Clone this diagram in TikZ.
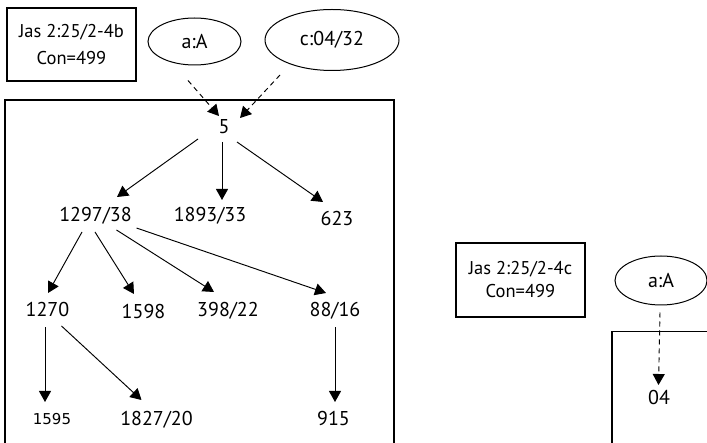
\documentclass[tikz,border=0pt]{standalone}
\usepackage{fontspec}
\setmainfont{PT Sans}
\usetikzlibrary{arrows.meta,shapes.geometric}

\begin{document}
\begin{tikzpicture}[x=1pt,y=-1pt,
  lbl/.style={font=\fontsize{20}{24}\selectfont, inner sep=0pt, text height=14pt, text depth=0pt},
  smalllbl/.style={font=\fontspec{DejaVu Sans}\fontsize{15}{17}\selectfont, inner sep=0pt, text height=11pt, text depth=0pt},
  infobox/.style={draw, line width=1.1pt, align=center, inner sep=0pt},
  oval/.style={draw, ellipse, line width=1pt, inner sep=0pt, font=\fontsize{20}{24}\selectfont},
  frame/.style={draw, line width=1.2pt},
  arr/.style={-{Triangle[length=11pt,width=12pt]}, line width=0.95pt},
  darr/.style={arr, dash pattern=on 5pt off 4pt}]
\useasboundingbox (0,0) rectangle (707,443);
\clip (0,0) rectangle (707,443);

% ---- left part: record 4b ----
\node[infobox, minimum width=129pt, minimum height=73pt,
      font=\fontsize{18.5}{27}\selectfont] (jasb) at (71.5,44.5) {Jas 2:25/2-4b\\Con=499};
\node[oval, minimum width=93pt, minimum height=47pt] (eA) at (194.5,41.5) {a:A};
\node[oval, minimum width=134pt, minimum height=61pt] (eC) at (332,40) {c:04/32};

\draw[frame] (5,100) rectangle (394,470);

\node[lbl] (n5)    at (224,127)   {5};
\node[lbl] (n1297) at (95.5,215)  {1297/38};
\node[lbl] (n1893) at (210,215)   {1893/33};
\node[lbl] (n623)  at (337,219)   {623};
\node[lbl] (n1270) at (47.5,310)  {1270};
\node[lbl] (n1598) at (143.5,312) {1598};
\node[lbl] (n398)  at (228,310)   {398/22};
\node[lbl] (n88)   at (335,310)   {88/16};
\node[smalllbl] (n1595) at (52,419) {1595};
\node[lbl] (n1827) at (156.5,418.5) {1827/20};
\node[lbl] (n915)  at (333.5,419) {915};

% dashed inputs
\draw[darr] ([shift={(-6.5,39)}]eA.center) -- ([shift={(-5,-11)}]n5.center);
\draw[darr] ([shift={(-52,35)}]eC.center)  -- ([shift={(16,-9)}]n5.center);

% tree edges
\draw[arr] ([shift={(-26,12)}]n5.center) -- ([shift={(21.5,-18)}]n1297.center);
\draw[arr] ([shift={(-2,15)}]n5.center)  -- ([shift={(12,-15)}]n1893.center);
\draw[arr] ([shift={(13,15)}]n5.center)  -- ([shift={(-14,-17)}]n623.center);

\draw[arr] ([shift={(-13.5,17)}]n1297.center) -- ([shift={(0.5,-17)}]n1270.center);
\draw[arr] ([shift={(-0.5,17)}]n1297.center)  -- ([shift={(-9.5,-18)}]n1598.center);
\draw[arr] ([shift={(21,15)}]n1297.center)    -- ([shift={(-14,-18)}]n398.center);
\draw[arr] ([shift={(41,13)}]n1297.center)    -- ([shift={(-9,-17)}]n88.center);

\draw[arr] ([shift={(-2.5,17.5)}]n1270.center) -- ([shift={(-7,-17)}]n1595.center);
\draw[arr] ([shift={(14,16)}]n1270.center)     -- ([shift={(-15,-18.5)}]n1827.center);
\draw[arr] ([shift={(0,17.5)}]n88.center)      -- ([shift={(1.5,-17)}]n915.center);

% ---- right part: record 4c ----
\node[infobox, minimum width=129pt, minimum height=74pt,
      font=\fontsize{18.5}{23}\selectfont] (jasc) at (520.5,280) {Jas 2:25/2-4c\\Con=499};
\node[oval, minimum width=92pt, minimum height=49pt] (eA2) at (661,280.5) {a:A};
\draw[frame] (612,331.5) rectangle (730,470);
\node[lbl] (n04) at (659,398) {04};
\draw[darr] ([shift={(-1,32)}]eA2.center) -- ([shift={(-0.5,-13)}]n04.center);
\end{tikzpicture}
\end{document}
